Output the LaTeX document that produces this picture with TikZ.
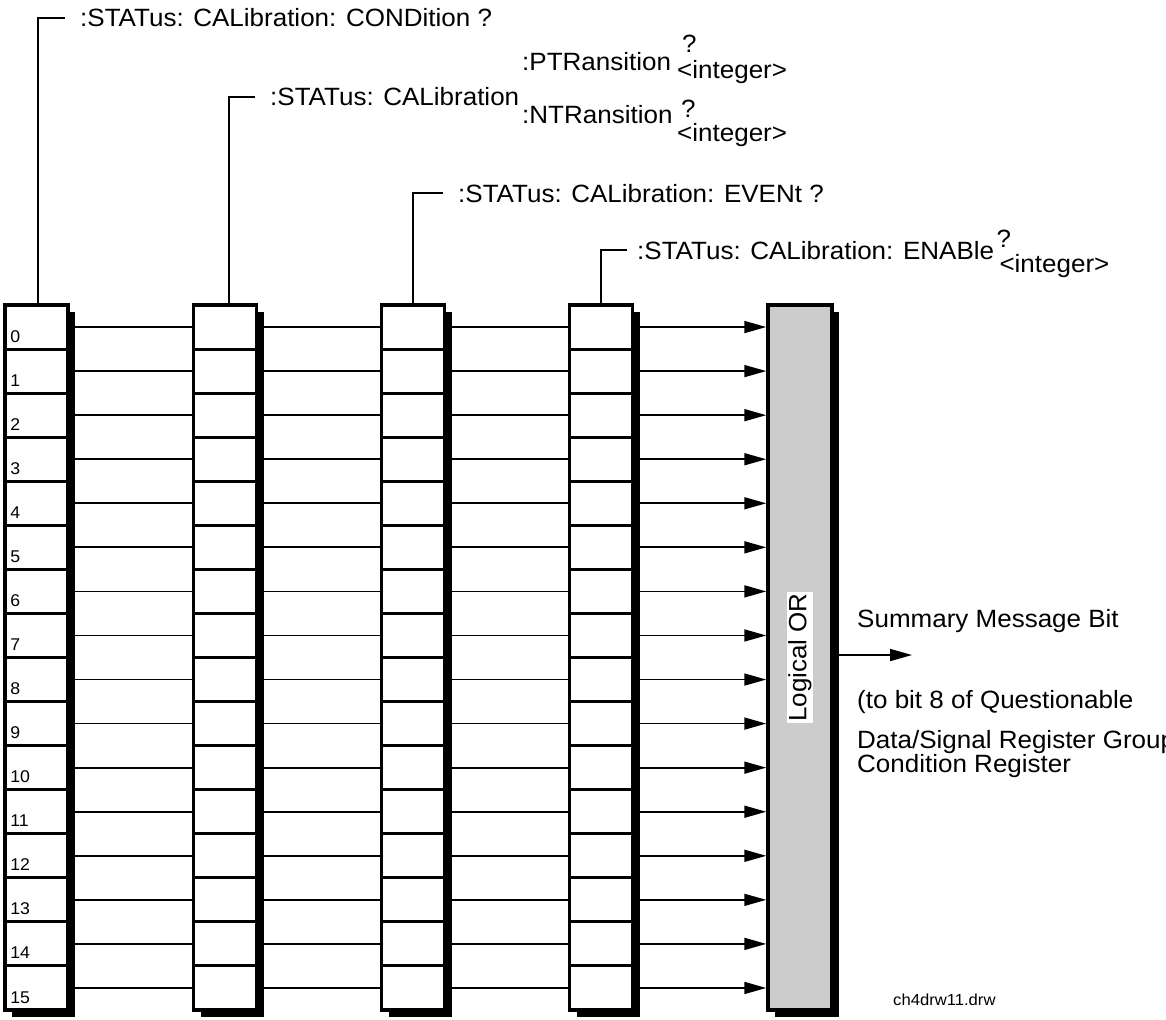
\documentclass[tikz,border=0pt]{standalone}
\usepackage{fontspec}
\setmainfont{Liberation Sans}[FakeStretch=1.04]
\usetikzlibrary{arrows.meta,shadows}
\begin{document}
\begin{tikzpicture}[x=1pt,y=-1pt,
  colbox/.style={draw, line width=3.5pt, fill=white, minimum width=63pt, minimum height=705pt,
     inner sep=0pt, outer sep=1.75pt,
     drop shadow={shadow xshift=7pt, shadow yshift=-7pt, opacity=1, fill=black}},
  cell/.style={draw, line width=3pt, minimum width=63pt, minimum height=44.0625pt, inner sep=0pt, outer sep=1.5pt},
  orstyle/.style={draw, line width=3.5pt, fill=black!20, minimum width=64pt, minimum height=705pt,
     inner sep=0pt, outer sep=1.75pt,
     drop shadow={shadow xshift=7pt, shadow yshift=-7pt, opacity=1, fill=black}},
  conn/.style={line width=1.7pt},
  arr/.style={line width=1.7pt, -{Triangle[length=22pt,width=12pt]}},
  bracket/.style={line width=2.5pt},
  lab/.style={font=\fontsize{25}{30}\selectfont, inner sep=0pt, text height=18pt, text depth=0pt, anchor=west},
  txt/.style={font=\fontsize{25}{30}\selectfont, inner sep=0pt, anchor=base west},
  num/.style={font=\fontsize{17}{20}\selectfont, inner sep=0pt, anchor=base west},
]
\path[use as bounding box, clip] (0,0) rectangle (1166,1019);

% registers
\foreach \c/\x in {1/36.7, 2/225, 3/413, 4/601} {
  \node[colbox] (col\c) at (\x, 657.5) {};
  \foreach \r in {0,...,15} {
    \node[cell] (c\c-\r) at (\x, {305 + 44.0625*(\r+0.5)}) {};
  }
}
% logical OR
\node[orstyle] (orbox) at (800, 657.5) {};
\node[rotate=90, fill=white, inner sep=1pt, font=\fontsize{25}{30}\selectfont] (ortext) at (orbox.center) {Logical OR};

% bit numbers
\foreach \r in {0,...,15} {
  \node[num] (n\r) at ([xshift=6.5pt, yshift=8.5pt]c1-\r.south west) {\r};
}

% connectors
\foreach \r in {0,...,15} {
  \draw[conn] (c1-\r.east) -- (c2-\r.west);
  \draw[conn] (c2-\r.east) -- (c3-\r.west);
  \draw[conn] (c3-\r.east) -- (c4-\r.west);
  \draw[arr] (c4-\r.east) -- (c4-\r.east -| orbox.west);
}

% command labels
\node[lab] (lab1) at (80, 18) {:STATus: CALibration: CONDition ?};
\node[lab] (lab2) at (270, 97) {:STATus: CALibration};
\node[lab] (lab3) at (458, 193) {:STATus: CALibration: EVENt ?};
\node[lab] (lab4) at (637, 250) {:STATus: CALibration: ENABle};
\node[txt] (q4) at ([xshift=2pt, yshift=12pt]lab4.base east) {?};
\node[txt] (i4) at ([xshift=5pt, yshift=-13pt]lab4.base east) {<integer>};

\node[txt] (pt) at (522, 71) {:PTRansition};
\node[txt] (ptq) at (682, 53) {?};
\node[txt] (pti) at (677, 79) {<integer>};
\node[txt] (nt) at (522, 124) {:NTRansition};
\node[txt] (ntq) at (681, 118) {?};
\node[txt] (nti) at (677, 142) {<integer>};

\draw[bracket] ([xshift=1.3pt]col1.north) |- ([xshift=-15pt]lab1.west);
\draw[bracket] ([xshift=4pt]col2.north) |- ([xshift=-15pt]lab2.west);
\draw[bracket] (col3.north) |- ([xshift=-15pt]lab3.west);
\draw[bracket] (col4.north) |- ([xshift=-10pt]lab4.west);

% summary output
\coordinate (sumend) at (912, 655);
\draw[arr] ([xshift=5pt]orbox.east |- sumend) -- (sumend);
\node[txt] (sum) at (857, 627) {Summary Message Bit};
\node[txt] (to1) at (857, 708) {(to bit 8 of Questionable};
\node[txt] (to2) at (857, 748) {Data/Signal Register Group};
\node[txt] (to3) at (857, 772) {Condition Register};

\node[font=\fontsize{16}{19}\selectfont, inner sep=0pt, anchor=base west] (fname) at (893, 1005) {ch4drw11.drw};
\end{tikzpicture}
\end{document}
